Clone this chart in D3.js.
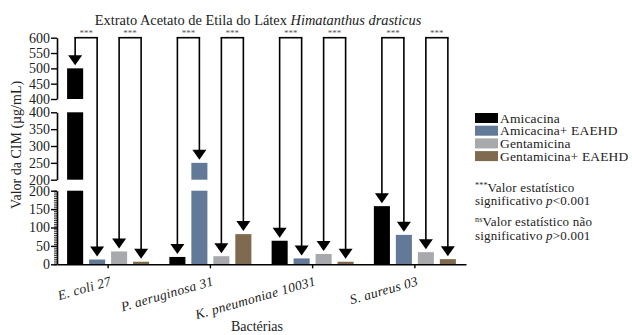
<!DOCTYPE html>
<html><head><meta charset="utf-8">
<script src="https://cdn.jsdelivr.net/npm/d3@7"></script>
<style>
html,body{margin:0;padding:0;background:#fff;}
svg{display:block;font-family:"Liberation Serif",serif;}
</style></head>
<body><svg id="c" width="632" height="335"></svg>
<script>
// ---- data ----
const categories = ["E. coli 27", "P. aeruginosa 31", "K. pneumoniae 10031", "S. aureus 03"];
const seriesNames = ["Amicacina", "Amicacina+ EAEHD", "Gentamicina", "Gentamicina+ EAEHD"];
const amicacina = [500, 20, 64, 158];
const amicacinaEAEHD = [13, 250, 16, 80];
const gentamicina = [35, 22, 28, 33];
const gentamicinaEAEHD = [7, 82, 7, 14];
const seriesColors = ["#000000", "#627a97", "#a7a9ac", "#7f6a4f"];
const significance = ["***", "***", "***", "***", "***", "***", "***", "***"];
const ticksTop = [400, 450, 500, 550, 600];
const ticksMid = [200, 250, 300, 350, 400];
const ticksBot = [0, 50, 100, 150, 200];

const seriesValues = [amicacina, amicacinaEAEHD, gentamicina, gentamicinaEAEHD];
const table = [];
categories.forEach((c, i) => seriesNames.forEach((s, j) => table.push({cat: c, ser: s, si: j, v: seriesValues[j][i]})));

const svg = d3.select("#c");
const L = 57, R = 466;

// broken y axis: three segments
const segs = [
  {lo: 400, hi: 600, scale: d3.scaleLinear().domain([400, 600]).range([99, 37.7]), ticks: ticksTop},
  {lo: 200, hi: 400, scale: d3.scaleLinear().domain([200, 400]).range([179.7, 112.3]), ticks: ticksMid},
  {lo: 0, hi: 200, scale: d3.scaleLinear().domain([0, 200]).range([264.3, 190.7]), ticks: ticksBot}
];
function yb(v) {
  const s = v > 400 ? segs[0] : v > 200 ? segs[1] : segs[2];
  return s.scale(v);
}

const x0 = d3.scaleBand().domain(categories).range([L, R]).padding(0);
const x1 = d3.scaleBand().domain(seriesNames).range([0, x0.bandwidth()]).paddingInner(0.27).paddingOuter(0.46);

// bars, clipped per segment
segs.forEach((s, k) => {
  const g = svg.append("g");
  table.forEach(d => {
    if (d.v <= s.lo) return;
    const top = Math.min(d.v, s.hi);
    g.append("rect")
      .attr("x", x0(d.cat) + x1(d.ser))
      .attr("width", x1.bandwidth())
      .attr("y", s.scale(top))
      .attr("height", s.scale(s.lo) - s.scale(top))
      .attr("fill", seriesColors[d.si]);
  });
});

// y axes
segs.forEach((s, k) => {
  const ax = d3.axisLeft(s.scale).tickValues(s.ticks).tickSize(6).tickSizeOuter(0).tickPadding(1);
  const g = svg.append("g").attr("transform", `translate(${L},0)`).call(ax);
  g.select(".domain").attr("stroke-width", 1.6);
  g.selectAll(".tick line").attr("stroke-width", 1.4);
  g.selectAll("text").attr("font-size", 14).attr("font-family", "Liberation Serif").attr("fill", "#222");
  if (k === 2) {
    const minor = d3.range(0, 201, 5);
    const am = d3.axisLeft(s.scale).tickValues(minor).tickSize(3).tickSizeOuter(0).tickFormat("");
    const gm = svg.append("g").attr("transform", `translate(${L},0)`).call(am);
    gm.select(".domain").remove();
    gm.selectAll(".tick line").attr("stroke-width", 0.8);
  }
});

// x axis
const xa = d3.axisBottom(x0).tickSize(4).tickSizeOuter(0).tickFormat("");
const gx = svg.append("g").attr("transform", `translate(0,${segs[2].scale(0)})`).call(xa);
gx.select(".domain").attr("stroke-width", 1.6);
gx.selectAll(".tick line").attr("stroke-width", 1.4);
categories.forEach(c => {
  const cx = x0(c) + x0.bandwidth() / 2 + 4;
  svg.append("text").attr("transform", `translate(${cx},285) rotate(-16)`)
    .attr("text-anchor", "end").attr("font-size", 13.5).attr("font-style", "italic").attr("fill", "#222")
    .attr("letter-spacing", 0.3)
    .text(c);
});

// arrows + brackets
const topY = segs[0].scale(600);
const headW = 14, headH = 10, gap = 3;
table.forEach(d => {
  const cx = x0(d.cat) + x1(d.ser) + x1.bandwidth() / 2;
  const tip = yb(d.v) - gap;
  svg.append("line").attr("x1", cx).attr("x2", cx).attr("y1", topY).attr("y2", tip - headH + 1)
    .attr("stroke", "#000").attr("stroke-width", 1.6);
  svg.append("path").attr("d", `M${cx - headW / 2},${tip - headH}L${cx + headW / 2},${tip - headH}L${cx},${tip}Z`).attr("fill", "#000");
});
categories.forEach((c, i) => {
  [[0, 1], [2, 3]].forEach((p, k) => {
    const xa_ = x0(c) + x1(seriesNames[p[0]]) + x1.bandwidth() / 2;
    const xb_ = x0(c) + x1(seriesNames[p[1]]) + x1.bandwidth() / 2;
    svg.append("line").attr("x1", xa_ - 0.8).attr("x2", xb_ + 0.8).attr("y1", topY).attr("y2", topY)
      .attr("stroke", "#000").attr("stroke-width", 1.6);
    svg.append("text").attr("x", (xa_ + xb_) / 2).attr("y", topY - 1.5).attr("text-anchor", "middle")
      .attr("font-size", 9).attr("fill", "#555").text(significance[i * 2 + k]);
  });
});

// title
const t = svg.append("text").attr("x", 258).attr("y", 25).attr("text-anchor", "middle").attr("font-size", 14.4).attr("fill", "#222");
t.append("tspan").text("Extrato Acetato de Etila do Látex ");
t.append("tspan").attr("font-style", "italic").text("Himatanthus drasticus");

// axis titles
svg.append("text").attr("transform", "translate(21,145) rotate(-90)").attr("text-anchor", "middle")
  .attr("font-size", 14).attr("fill", "#222").text("Valor da CIM (µg/mL)");
svg.append("text").attr("x", 257).attr("y", 331).attr("text-anchor", "middle")
  .attr("font-size", 14).attr("fill", "#222").text("Bactérias");

// legend
const lg = svg.append("g");
seriesNames.forEach((s, i) => {
  const y = 113 + i * 12.7;
  lg.append("rect").attr("x", 475).attr("y", y).attr("width", 23).attr("height", 10).attr("fill", seriesColors[i]);
  lg.append("text").attr("x", 500).attr("y", y + 9.5).attr("font-size", 13.5).attr("letter-spacing", 0.15)
    .attr("fill", "#222").text(s);
});
// notes
const n1 = lg.append("text").attr("x", 475).attr("y", 192).attr("font-size", 13).attr("letter-spacing", 0.2).attr("fill", "#222");
n1.append("tspan").attr("font-size", 8).attr("dy", -4).text("***");
n1.append("tspan").attr("dy", 4).text("Valor estatístico");
const n2 = lg.append("text").attr("x", 475).attr("y", 205).attr("font-size", 13).attr("letter-spacing", 0.2).attr("fill", "#222");
n2.append("tspan").text("significativo ");
n2.append("tspan").attr("font-style", "italic").text("p");
n2.append("tspan").text("<0.001");
const n3 = lg.append("text").attr("x", 475).attr("y", 226).attr("font-size", 13).attr("letter-spacing", 0.2).attr("fill", "#222");
n3.append("tspan").attr("font-size", 8).attr("dy", -4).text("ns");
n3.append("tspan").attr("dy", 4).text("Valor estatístico não");
const n4 = lg.append("text").attr("x", 475).attr("y", 240).attr("font-size", 13).attr("letter-spacing", 0.2).attr("fill", "#222");
n4.append("tspan").text("significativo ");
n4.append("tspan").attr("font-style", "italic").text("p");
n4.append("tspan").text(">0.001");
</script></body></html>
